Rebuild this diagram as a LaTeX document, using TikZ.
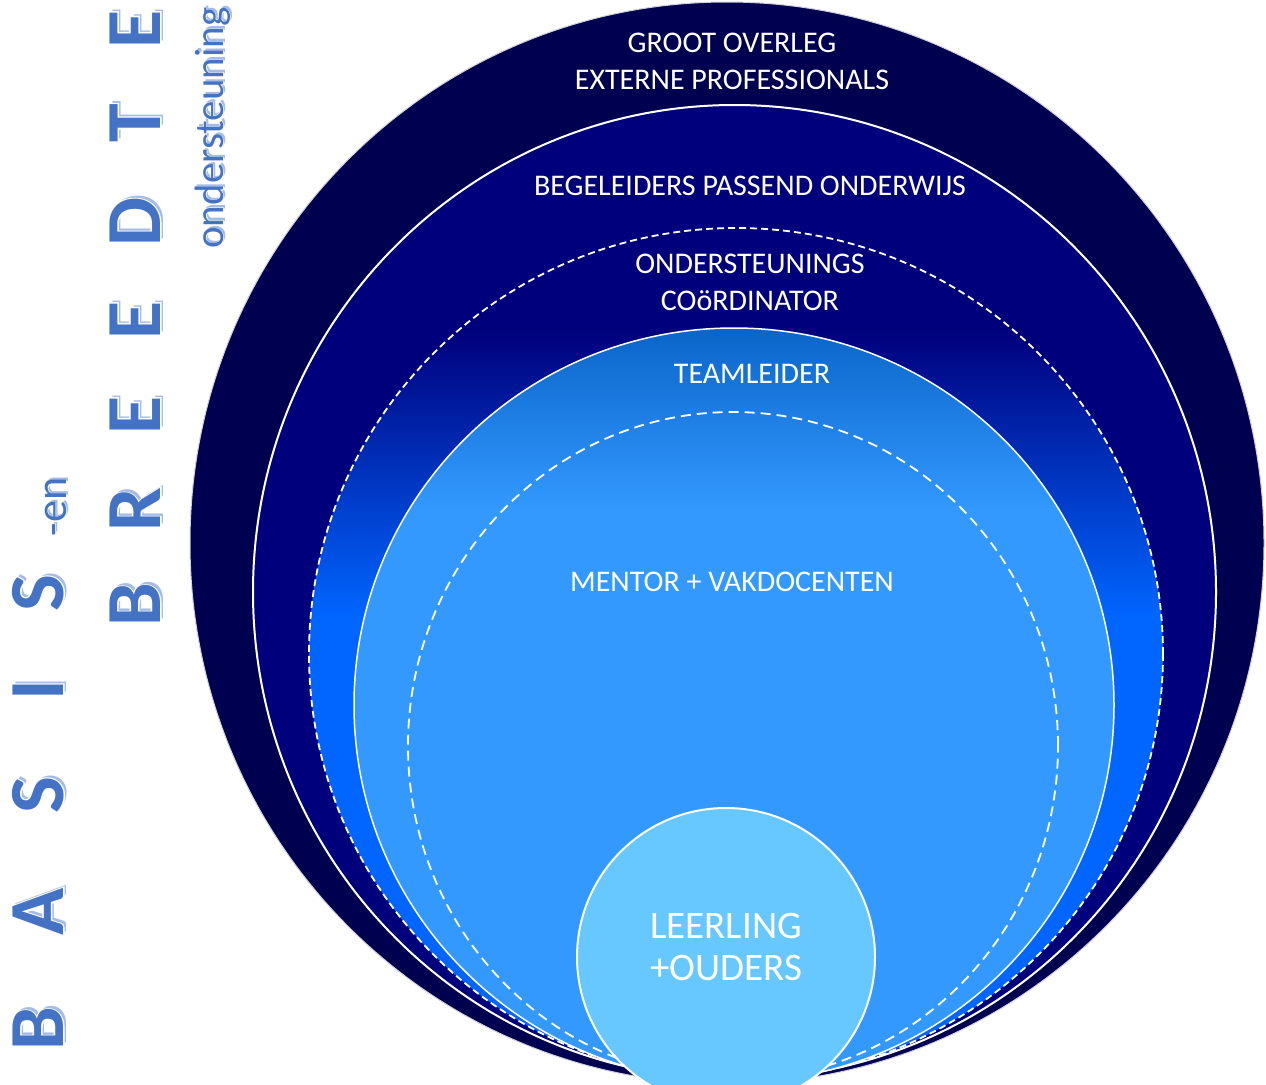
\documentclass[tikz,border=0pt]{standalone}
\usepackage{fontspec}
\setmainfont{Carlito}
\newfontfamily\lettersmain{Carlito Bold}
\newfontfamily\lettersout{Carlito Bold}[FakeBold=4]
\newfontfamily\smallmain{Carlito}
\newfontfamily\smallout{Carlito}[FakeBold=3]
\definecolor{navyA}{HTML}{000050}
\definecolor{navyB}{HTML}{00007C}
\definecolor{brightA}{HTML}{0066FF}
\definecolor{teamtop}{HTML}{0A64C8}
\definecolor{skyA}{HTML}{3399FF}
\definecolor{leer}{HTML}{66C8FF}
\definecolor{rimgray}{HTML}{D0D0D8}
\definecolor{letterblue}{HTML}{4472C4}
\definecolor{shadowblue}{HTML}{A4BCE6}
\newcommand\fancybig[1]{\makebox[0pt][l]{\hspace*{3pt}\raisebox{-3pt}{\color{shadowblue}\lettersmain #1}}\makebox[0pt][l]{\color{white}\lettersout #1}{\color{letterblue}\lettersmain #1}}
\newcommand\fancysmall[1]{\makebox[0pt][l]{\hspace*{2.5pt}\raisebox{-2.5pt}{\color{shadowblue}\smallmain #1}}\makebox[0pt][l]{\color{white}\smallout #1}{\color{letterblue}\smallmain #1}}
\begin{document}
\begin{tikzpicture}[x=1pt,y=-1pt,
  lbl/.style={text=white, align=center, inner sep=0pt, font=\fontsize{30}{37}\selectfont},
  biglbl/.style={text=white, align=center, inner sep=0pt, font=\fontsize{39}{42}\selectfont},
  bigletter/.style={rotate=90, anchor=base, inner sep=0pt, font=\fontsize{78}{80}\selectfont},
  smallword/.style={rotate=90, anchor=base, inner sep=0pt, font=\fontsize{41}{44}\selectfont},
  dashA/.style={draw=white, line width=1.8pt, dash pattern=on 7pt off 4pt},
  dashB/.style={draw=white, line width=1.8pt, dash pattern=on 10pt off 6pt}]
\useasboundingbox (0,0) rectangle (1266,1084);
\clip (0,0) rectangle (1266,1084);
% outer ellipse
\fill[navyA, draw=rimgray, line width=1pt] (727,543) ellipse [x radius=537pt, y radius=541pt];
% ellipse 2
\fill[navyB, draw=white, line width=2pt] (734.5,592) ellipse [x radius=481.5pt, y radius=487pt];
% ellipse 3 (dashed, gradient)
\begin{scope}
  \clip (736,654) ellipse [x radius=427pt, y radius=426pt];
  \fill[navyB] (300,220) rectangle (1170,331);
  \shade[top color=navyB, bottom color=brightA] (300,330) rectangle (1170,616);
  \fill[brightA] (300,615) rectangle (1170,1090);
\end{scope}
\draw[dashA] (736,654) ellipse [x radius=427pt, y radius=426pt];
% ellipse 4 (teamleider)
\begin{scope}
  \clip (734,705) ellipse [x radius=380pt, y radius=377pt];
  \fill[skyA] (350,320) rectangle (1120,1090);
  \shade[top color=teamtop, bottom color=skyA] (350,326) rectangle (1120,510);
\end{scope}
\draw[white, line width=1.5pt] (734,705) ellipse [x radius=380pt, y radius=377pt];
% ellipse 5 (mentor, dashed)
\draw[dashB] (733,746) ellipse [x radius=325pt, y radius=334pt];
% circle leerling
\filldraw[fill=leer, draw=white, line width=2pt] (726,957) circle [radius=149pt];
% labels
\node[lbl] (groot) at (732,61) {GROOT OVERLEG\\EXTERNE PROFESSIONALS};
\node[lbl] (begel) at (750,186) {BEGELEIDERS PASSEND ONDERWIJS};
\node[lbl] (onder) at (750,282) {ONDERSTEUNINGS\\CO\"oRDINATOR};
\node[lbl] (team) at (752,374) {TEAMLEIDER};
\node[lbl] (mentor) at (732,582) {MENTOR + VAKDOCENTEN};
\node[biglbl] (leerling) at (726,947) {LEERLING\\+OUDERS};
% left vertical lettering: BASIS -en
\node[bigletter] (b1) at (63,1029) {\fancybig{B}};
\node[bigletter] (a1) at (63,912) {\fancybig{A}};
\node[bigletter] (s1) at (63,795) {\fancybig{S}};
\node[bigletter] (i1) at (63,690) {\fancybig{I}};
\node[bigletter] (s2) at (63,593) {\fancybig{S}};
\node[rotate=90, anchor=base, inner sep=0pt, font=\fontsize{44}{46}\selectfont] (en) at (66,507) {\fancysmall{-en}};
% BREEDTE
\node[bigletter] (b2) at (160,605) {\fancybig{B}};
\node[bigletter] (r2) at (160,510) {\fancybig{R}};
\node[bigletter] (e2) at (160,415) {\fancybig{E}};
\node[bigletter] (e3) at (160,320) {\fancybig{E}};
\node[bigletter] (d2) at (160,222) {\fancybig{D}};
\node[bigletter] (t2) at (160,123) {\fancybig{T}};
\node[bigletter] (e4) at (160,29) {\fancybig{E}};
\node[smallword] (onderst) at (223,128) {\fancysmall{ondersteuning}};
\end{tikzpicture}
\end{document}
